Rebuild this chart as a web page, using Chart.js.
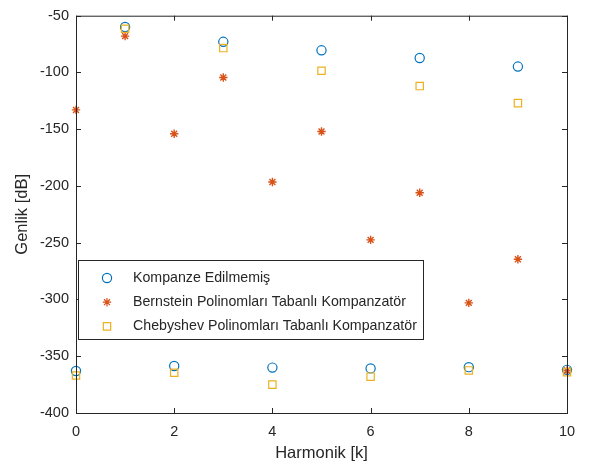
<!DOCTYPE html>
<html>
<head>
<meta charset="utf-8">
<script src="https://cdn.jsdelivr.net/npm/chart.js@4"></script>
<style>
  html, body { margin: 0; padding: 0; background: #fff; }
  #wrap { width: 589px; height: 467px; }
</style>
</head>
<body>
<div id="wrap"><canvas id="myChart"></canvas></div>
<script>
const harmonics = [0, 1, 2, 3, 4, 5, 6, 7, 8, 9, 10];
const kompanzeEdilmemis = [-363, -60, -358.6, -73, -360, -80.5, -360.7, -87.3, -359.6, -94.8, -362];
const bernstein = [-133, -68, -154, -104.5, -196.5, -152, -247.5, -206, -303, -264.5, -362.5];
const chebyshev = [-367, -61.5, -364.5, -78.5, -375, -98.5, -368, -112, -362.5, -127, -364];
const seriesNames = ['Kompanze Edilmemiş', 'Bernstein Polinomları Tabanlı Kompanzatör', 'Chebyshev Polinomları Tabanlı Kompanzatör'];

const FONT = "'Liberation Sans', Arial, Helvetica, sans-serif";
const TXT = '#262626';

function toPoints(arr) {
  return arr.map((v, i) => ({ x: harmonics[i], y: v }));
}

// small marker drawer, also used for the legend
function drawMarker(ctx, style, x, y, r, color) {
  ctx.save();
  ctx.strokeStyle = color;
  ctx.lineWidth = 1.2;
  ctx.beginPath();
  if (style === 'circle') {
    ctx.arc(x, y, r, 0, Math.PI * 2);
  } else if (style === 'rect') {
    const s = r * Math.SQRT1_2;
    ctx.rect(x - s, y - s, 2 * s, 2 * s);
  } else {
    ctx.moveTo(x - r, y); ctx.lineTo(x + r, y);
    ctx.moveTo(x, y - r); ctx.lineTo(x, y + r);
    const d = r * Math.SQRT1_2;
    ctx.moveTo(x - d, y - d); ctx.lineTo(x + d, y + d);
    ctx.moveTo(x - d, y + d); ctx.lineTo(x + d, y - d);
  }
  ctx.stroke();
  ctx.restore();
}

const boxPlugin = {
  id: 'matlabBox',
  afterDraw(chart) {
    const { ctx, chartArea: a, scales } = chart;
    ctx.save();
    ctx.strokeStyle = TXT;
    ctx.lineWidth = 1;
    ctx.strokeRect(a.left + 0.5, a.top + 0.5, a.right - a.left, a.bottom - a.top);
    const tl = 5;
    ctx.beginPath();
    scales.x.ticks.forEach(t => {
      const px = Math.round(scales.x.getPixelForValue(t.value)) + 0.5;
      ctx.moveTo(px, a.bottom); ctx.lineTo(px, a.bottom - tl);
      ctx.moveTo(px, a.top); ctx.lineTo(px, a.top + tl);
    });
    scales.y.ticks.forEach(t => {
      const py = Math.round(scales.y.getPixelForValue(t.value)) + 0.5;
      ctx.moveTo(a.left, py); ctx.lineTo(a.left + tl, py);
      ctx.moveTo(a.right, py); ctx.lineTo(a.right - tl, py);
    });
    ctx.stroke();

    // legend box
    const lx = 78, ly = 260, lw = 345, lh = 79;
    ctx.fillStyle = '#fff';
    ctx.fillRect(lx, ly, lw, lh);
    ctx.strokeRect(lx + 0.5, ly + 0.5, lw, lh);
    ctx.font = '14.2px ' + FONT;
    ctx.fillStyle = TXT;
    ctx.textBaseline = 'middle';
    chart.data.datasets.forEach((ds, i) => {
      const y = ly + 18 + i * 24.2;
      drawMarker(ctx, ds.pointStyle, lx + 29, y, ds.pointRadius, ds.borderColor);
      ctx.fillText(ds.label, lx + 55, y);
    });
    ctx.restore();
  }
};

const data = {
  datasets: [{
    label: seriesNames[0],
    data: toPoints(kompanzeEdilmemis),
    pointStyle: 'circle',
    pointRadius: 4.6,
    borderColor: '#0072BD',
    backgroundColor: 'rgba(0,0,0,0)',
    pointBorderWidth: 1.2,
    showLine: false,
    clip: false,
    order: 2
  }, {
    label: seriesNames[1],
    data: toPoints(bernstein),
    pointStyle: 'star',
    pointRadius: 4.2,
    borderColor: '#D95319',
    backgroundColor: 'rgba(0,0,0,0)',
    pointBorderWidth: 1.4,
    showLine: false,
    clip: false,
    order: 1
  }, {
    label: seriesNames[2],
    data: toPoints(chebyshev),
    pointStyle: 'rect',
    pointRadius: 5.2,
    borderColor: '#EDB120',
    backgroundColor: 'rgba(0,0,0,0)',
    pointBorderWidth: 1.2,
    showLine: false,
    clip: false,
    order: 0
  }]
};

const config = {
  type: 'scatter',
  data: data,
  plugins: [boxPlugin],
  options: {
    responsive: true,
    maintainAspectRatio: false,
    animation: false,
    layout: { padding: { top: 9, right: 22, left: 0, bottom: 0 } },
    plugins: {
      legend: { display: false },
      tooltip: { enabled: false }
    },
    scales: {
      x: {
        type: 'linear',
        min: 0,
        max: 10,
        grid: { display: false, drawTicks: false },
        border: { display: false },
        ticks: { stepSize: 2, color: TXT, font: { family: FONT, size: 14.5 }, padding: 10, maxRotation: 0 },
        title: { display: true, text: 'Harmonik [k]', color: TXT, font: { family: FONT, size: 16.5 }, padding: { top: 0 } },
        afterFit(scale) { scale.height = 54; }
      },
      y: {
        min: -400,
        max: -50,
        grid: { display: false, drawTicks: false },
        border: { display: false },
        ticks: { stepSize: 50, color: TXT, font: { family: FONT, size: 14.5 }, padding: 7 },
        title: { display: true, text: 'Genlik [dB]', color: TXT, font: { family: FONT, size: 16.5 }, padding: { top: 13, bottom: 0 } },
        afterFit(scale) { scale.width = 76; }
      }
    }
  }
};

const chart = new Chart(document.getElementById('myChart'), config);
</script>
</body>
</html>
